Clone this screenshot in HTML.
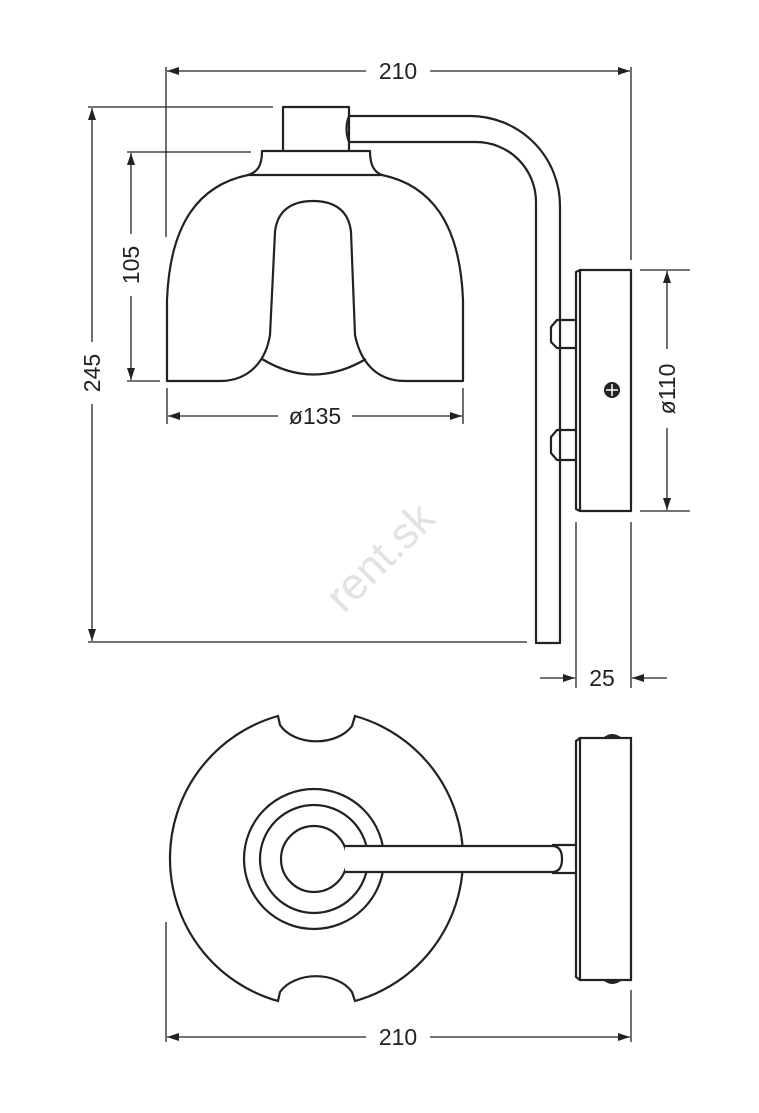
<!DOCTYPE html>
<html><head><meta charset="utf-8"><style>
html,body{margin:0;padding:0;background:#fff;}
svg{display:block;}
text{font-family:"Liberation Sans",Arial,sans-serif;font-size:23px;fill:#222;}
</style></head><body>
<svg width="759" height="1113" viewBox="0 0 759 1113" xmlns="http://www.w3.org/2000/svg">
<defs>
<marker id="a" viewBox="0 0 12 8" refX="12" refY="4" markerWidth="12" markerHeight="8" orient="auto-start-reverse" markerUnits="userSpaceOnUse">
<path d="M0,0 L12,4 L0,8 Z" fill="#222"/></marker>
</defs>
<text x="380" y="572" transform="rotate(-45 380 557)" text-anchor="middle" style="font-size:44px;fill:#e2e2e2">rent.sk</text>
<g stroke="#222" stroke-width="1.3" fill="none">
<line x1="166" y1="67" x2="166" y2="237"/>
<line x1="631" y1="67" x2="631" y2="260"/>
<line x1="167" y1="71" x2="366" y2="71" marker-start="url(#a)"/>
<line x1="430" y1="71" x2="630" y2="71" marker-end="url(#a)"/>
<line x1="88" y1="107" x2="273" y2="107"/>
<line x1="88" y1="642" x2="527" y2="642"/>
<line x1="92" y1="108" x2="92" y2="342" marker-start="url(#a)"/>
<line x1="92" y1="404" x2="92" y2="641" marker-end="url(#a)"/>
<line x1="127" y1="152" x2="251" y2="152"/>
<line x1="127" y1="381" x2="160" y2="381"/>
<line x1="131" y1="153" x2="131" y2="234" marker-start="url(#a)"/>
<line x1="131" y1="296" x2="131" y2="380" marker-end="url(#a)"/>
<line x1="167" y1="388" x2="167" y2="424"/>
<line x1="463" y1="388" x2="463" y2="424"/>
<line x1="168" y1="416" x2="278" y2="416" marker-start="url(#a)"/>
<line x1="352" y1="416" x2="462" y2="416" marker-end="url(#a)"/>
<line x1="640" y1="270" x2="690" y2="270"/>
<line x1="640" y1="511" x2="690" y2="511"/>
<line x1="667" y1="271" x2="667" y2="349" marker-start="url(#a)"/>
<line x1="667" y1="428" x2="667" y2="510" marker-end="url(#a)"/>
<line x1="576" y1="522" x2="576" y2="688"/>
<line x1="631" y1="522" x2="631" y2="688"/>
<line x1="540" y1="678" x2="575" y2="678" marker-end="url(#a)"/>
<line x1="667" y1="678" x2="632" y2="678" marker-end="url(#a)"/>
<line x1="166" y1="922" x2="166" y2="1042"/>
<line x1="631" y1="990" x2="631" y2="1042"/>
<line x1="167" y1="1037" x2="366" y2="1037" marker-start="url(#a)"/>
<line x1="430" y1="1037" x2="630" y2="1037" marker-end="url(#a)"/>
</g>
<g stroke="#222" stroke-width="2.2" fill="none" stroke-linejoin="round">
<path d="M349,150 L349,107 L283,107 L283,150"/>
<path d="M349,116 L470,116 A90,90 0 0 1 560,206 L560,643 L536,643 L536,202 A60,60 0 0 0 476,142 L349,142"/>
<path d="M349,116 Q344,129 349,142"/>
<path d="M248,175 C258,172 262,165 262,151 L370,151 C370,165 374,172 382,175 Z"/>
<path d="M248,175 C200,185 170,222 167,300 L167,381 L220,381 C250,381 266,360 270,335 L275,232 C277,212 290,201 313,201 C336,201 349,212 351,232 L355,335 C360,360 375,381 405,381 L463,381 L463,300 C460,222 430,185 382,175"/>
<path d="M262,359 Q313,390 366,359"/>
<rect x="580" y="270" width="51" height="241"/>
<path d="M580,270 L576,272 L576,509 L580,511"/>
<path d="M576,320 L557,320 L551,327 L551,342 L557,348 L576,348"/>
<path d="M576,430 L557,430 L551,437 L551,453 L557,460 L576,460"/>
</g>
<circle cx="612" cy="390" r="8" fill="#222"/>
<path d="M612,384 V396 M606,390 H618" stroke="#fff" stroke-width="1.5"/>
<g stroke="#222" stroke-width="2.2" fill="none">
<path d="M355,716 A148,148 0 0 1 355,1001 L352,992 A40,28 0 0 0 280,992 L278,1001 A148,148 0 0 1 278,716 L280,725 A40,28 0 0 0 352,726 Z"/>
<circle cx="314" cy="859" r="70"/>
<circle cx="314" cy="859" r="54"/>
<circle cx="314" cy="859" r="33"/>
<path d="M345,846 L552,846 Q562,846 562,859 Q562,872 552,872 L345,872" fill="#fff"/>
<path d="M552,845 L576,845 M552,873 L576,873"/>
<rect x="580" y="738" width="51" height="242"/>
<path d="M580,738 L576,741 L576,977 L580,980"/>
</g>
<path d="M603,738 Q612,730 622,738 Z" fill="#222"/>
<path d="M603,980 Q612,988 622,980 Z" fill="#222"/>
<text x="398" y="79" text-anchor="middle">210</text>
<text x="398" y="1045" text-anchor="middle">210</text>
<text x="315" y="424" text-anchor="middle">ø135</text>
<text x="602" y="686" text-anchor="middle">25</text>
<text transform="translate(100,373) rotate(-90)" text-anchor="middle">245</text>
<text transform="translate(139,265) rotate(-90)" text-anchor="middle">105</text>
<text transform="translate(675,389) rotate(-90)" text-anchor="middle">ø110</text>
</svg>
</body></html>
